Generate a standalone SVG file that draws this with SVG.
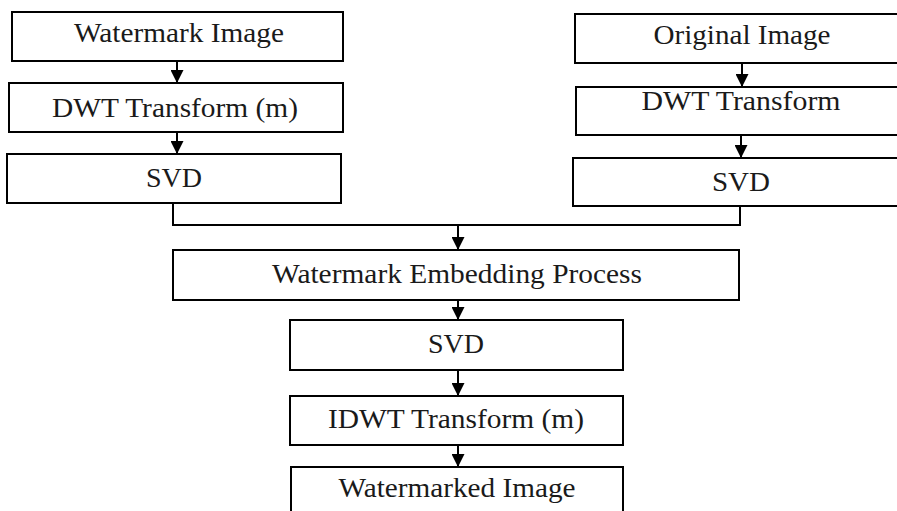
<svg xmlns="http://www.w3.org/2000/svg" width="897" height="511" viewBox="0 0 897 511">
<style>
.box{fill:#fff;stroke:#000;stroke-width:2}
.lbl{font-family:"Liberation Serif","Times New Roman",serif;font-size:27px;fill:#1a1a1a;text-anchor:middle}
.conn{fill:none;stroke:#000;stroke-width:2}
</style>
<defs>
<marker id="arr" markerUnits="userSpaceOnUse" markerWidth="13" markerHeight="13" refX="13" refY="6.5" orient="auto">
<path d="M0,0 L13,6.5 L0,13 z" fill="#000"/>
</marker>
</defs>
<rect width="897" height="511" fill="#fff"/>
<g id="connectors">
<path class="conn" d="M177,61 V83" marker-end="url(#arr)"/>
<path class="conn" d="M177,132 V154" marker-end="url(#arr)"/>
<path class="conn" d="M742,63 V87" marker-end="url(#arr)"/>
<path class="conn" d="M741,135 V158" marker-end="url(#arr)"/>
<path class="conn" d="M173,203 V225 H740 V206"/>
<path class="conn" d="M458,225 V250" marker-end="url(#arr)"/>
<path class="conn" d="M458,300 V320" marker-end="url(#arr)"/>
<path class="conn" d="M458,370 V396" marker-end="url(#arr)"/>
<path class="conn" d="M458,445 V467" marker-end="url(#arr)"/>
</g>
<g id="watermark-image"><rect class="box" x="12" y="12" width="331" height="49"/><text class="lbl" x="179" y="42" textLength="210" lengthAdjust="spacingAndGlyphs">Watermark Image</text></g>
<g id="dwt-m"><rect class="box" x="9" y="83" width="334" height="49"/><text class="lbl" x="175" y="117" textLength="246" lengthAdjust="spacingAndGlyphs">DWT Transform (m)</text></g>
<g id="svd-left"><rect class="box" x="7" y="154" width="334" height="49"/><text class="lbl" x="174" y="187" textLength="56" lengthAdjust="spacingAndGlyphs">SVD</text></g>
<g id="original-image"><rect class="box" x="575" y="14" width="340" height="49"/><text class="lbl" x="742" y="44" textLength="177" lengthAdjust="spacingAndGlyphs">Original Image</text></g>
<g id="dwt"><rect class="box" x="576" y="87" width="340" height="48"/><text class="lbl" x="741" y="110" textLength="199" lengthAdjust="spacingAndGlyphs">DWT Transform</text></g>
<g id="svd-right"><rect class="box" x="573" y="158" width="340" height="48"/><text class="lbl" x="741" y="191" textLength="58" lengthAdjust="spacingAndGlyphs">SVD</text></g>
<g id="embedding"><rect class="box" x="173" y="250" width="566" height="50"/><text class="lbl" x="457" y="283" textLength="370" lengthAdjust="spacingAndGlyphs">Watermark Embedding Process</text></g>
<g id="svd-mid"><rect class="box" x="290" y="320" width="333" height="50"/><text class="lbl" x="456" y="353" textLength="56" lengthAdjust="spacingAndGlyphs">SVD</text></g>
<g id="idwt"><rect class="box" x="290" y="396" width="333" height="49"/><text class="lbl" x="456" y="428" textLength="256" lengthAdjust="spacingAndGlyphs">IDWT Transform (m)</text></g>
<g id="watermarked-image"><rect class="box" x="291" y="467" width="332" height="60"/><text class="lbl" x="457" y="497" textLength="237" lengthAdjust="spacingAndGlyphs">Watermarked Image</text></g>
</svg>
